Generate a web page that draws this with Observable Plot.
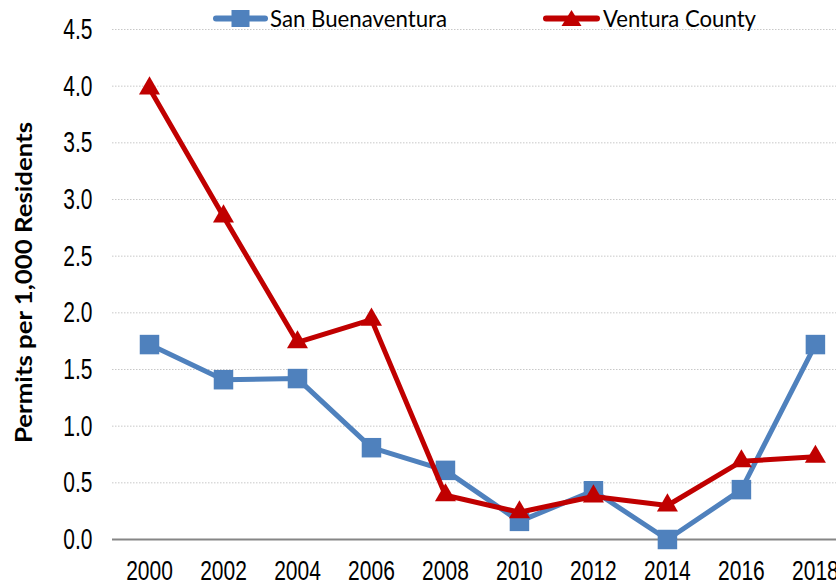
<!DOCTYPE html>
<html>
<head>
<meta charset="utf-8">
<script src="https://cdn.jsdelivr.net/npm/d3@7"></script>
<script src="https://cdn.jsdelivr.net/npm/@observablehq/plot@0.6"></script>
<style>
  html, body { margin: 0; padding: 0; background: #fff; overflow: hidden; }
  #wrap { position: relative; width: 836px; height: 586px; }
  #overlay { position: absolute; left: 0; top: 0; pointer-events: none; }
</style>
</head>
<body>
<div id="wrap">
  <div id="chart"></div>
  <svg id="overlay" width="836" height="586"></svg>
</div>
<script>
const years = [2000, 2002, 2004, 2006, 2008, 2010, 2012, 2014, 2016, 2018];
const sanBuenaventura = [1.72, 1.41, 1.42, 0.81, 0.61, 0.16, 0.43, 0.00, 0.44, 1.72];
const venturaCounty = [3.98, 2.85, 1.74, 1.94, 0.39, 0.24, 0.38, 0.30, 0.69, 0.73];
const seriesNames = ["San Buenaventura", "Ventura County"];
const seriesColors = ["#4F81BD", "#C00000"];
const yTicks = [0, 0.5, 1, 1.5, 2, 2.5, 3, 3.5, 4, 4.5];
const yTitle = "Permits per 1,000 Residents";

const blue = years.map((y, i) => ({year: y, value: sanBuenaventura[i], series: seriesNames[0]}));
const red = years.map((y, i) => ({year: y, value: venturaCounty[i], series: seriesNames[1]}));

const fontAxis = '"Liberation Sans", Arial, sans-serif';

const chart = Plot.plot({
  width: 836,
  height: 586,
  marginLeft: 112,
  marginRight: 0,
  marginTop: 29,
  marginBottom: 47,
  style: { fontFamily: fontAxis, fontSize: "28px", color: "#000", background: "#fff", overflow: "visible" },
  x: { type: "linear", domain: [1999, 2018.57], ticks: years, tickFormat: d => String(d), label: null },
  y: { domain: [0, 4.5], ticks: yTicks, tickFormat: d3.format(".1f"), label: null },
  marks: [
    Plot.gridY(yTicks.filter(d => d > 0), { stroke: "#c8c8c8", strokeOpacity: 1, strokeWidth: 1, strokeDasharray: "1.5,1.5" }),
    Plot.ruleY([0], { stroke: "#868686", strokeWidth: 2 }),
    Plot.axisY({ ticks: yTicks, tickSize: 0, tickPadding: 20, tickFormat: d3.format(".1f"), fontSize: 30, label: null }),
    Plot.axisX({ ticks: years, tickSize: 0, tickPadding: 21, tickFormat: d => String(d), fontSize: 28, label: null }),
    Plot.line(blue, { x: "year", y: "value", stroke: seriesColors[0], strokeWidth: 5, strokeLinejoin: "round" }),
    Plot.dot(blue, { x: "year", y: "value", symbol: "square", r: 11, fill: seriesColors[0], stroke: "none" }),
    Plot.line(red, { x: "year", y: "value", stroke: seriesColors[1], strokeWidth: 5, strokeLinejoin: "round" }),
    Plot.dot(red, { x: "year", y: "value", symbol: "triangle", r: 7.8, fill: seriesColors[1], stroke: "none" })
  ]
});
document.getElementById("chart").appendChild(chart);

// condense tick labels horizontally (narrow font look)
d3.select(chart).selectAll('g[aria-label="y-axis tick label"] text').each(function() {
  const t = this.getAttribute("transform") || "";
  this.setAttribute("transform", t + " scale(0.70,1)");
});
d3.select(chart).selectAll('g[aria-label="x-axis tick label"] text').each(function() {
  const t = this.getAttribute("transform") || "";
  this.setAttribute("transform", t + " scale(0.75,1)");
});

// Overlay: legend and y-axis title
const ov = d3.select("#overlay");
const legendFont = 'Lato, "Open Sans", sans-serif';
const legendItems = [
  { x0: 213, x1: 268, textX: 270, textLen: 177 },
  { x0: 543, x1: 600, textX: 603, textLen: 153 }
];
legendItems.forEach((it, i) => {
  const g = ov.append("g");
  g.append("line").attr("x1", it.x0 + 3).attr("x2", it.x1 - 3).attr("y1", 18.5).attr("y2", 18.5)
    .attr("stroke", seriesColors[i]).attr("stroke-width", 6).attr("stroke-linecap", "round");
  const cx = (it.x0 + it.x1) / 2;
  if (i === 0) {
    g.append("rect").attr("x", cx - 9).attr("y", 10).attr("width", 18).attr("height", 17).attr("fill", seriesColors[i]);
  } else {
    g.append("polygon").attr("points", `${cx},10 ${cx + 10},26 ${cx - 10},26`).attr("fill", seriesColors[i]);
  }
  g.append("text").attr("x", it.textX).attr("y", 27)
    .attr("font-family", legendFont).attr("font-size", 23).attr("fill", "#000")
    .attr("textLength", it.textLen).attr("lengthAdjust", "spacingAndGlyphs")
    .text(seriesNames[i]);
});

ov.append("text")
  .attr("transform", "translate(32,282.5) rotate(-90)")
  .attr("text-anchor", "middle")
  .attr("font-family", legendFont).attr("font-weight", "bold").attr("font-size", 23).attr("fill", "#000")
  .attr("textLength", 321).attr("lengthAdjust", "spacingAndGlyphs")
  .text(yTitle);
</script>
</body>
</html>
